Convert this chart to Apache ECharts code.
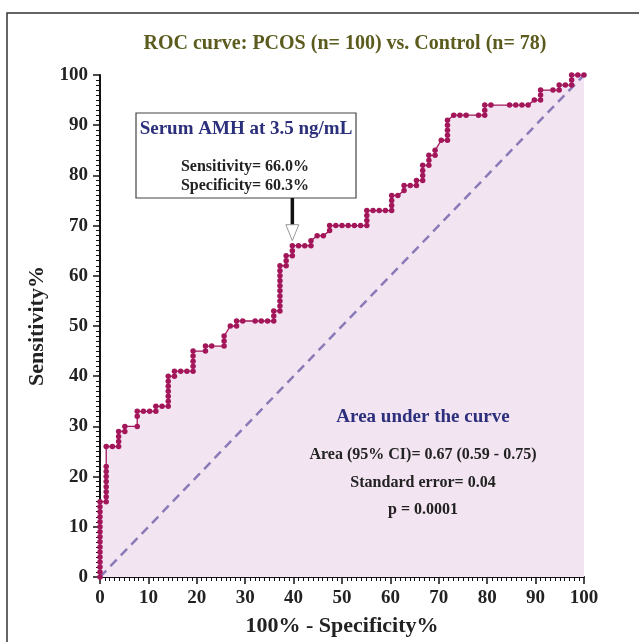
<!DOCTYPE html>
<html>
<head>
<meta charset="utf-8">
<script src="https://cdn.jsdelivr.net/npm/echarts@6/dist/echarts.min.js"></script>
<style>
  html, body { margin: 0; padding: 0; background: #fff; }
  #chart { width: 639px; height: 642px; }
</style>
</head>
<body>
<div id="chart"></div>
<script>
// 文本
const chartTitle = 'ROC curve: PCOS (n= 100) vs. Control (n= 78)';
const xName = '100% - Specificity%';
const yName = 'Sensitivity%';
const cutoffText = ['Serum AMH at 3.5 ng/mL', 'Sensitivity= 66.0%', 'Specificity= 60.3%'];
const aucText = ['Area under the curve', 'Area (95% CI)= 0.67 (0.59 - 0.75)', 'Standard error= 0.04', 'p = 0.0001'];

// ROC 曲线点 [100% - 特异度, 灵敏度]
const rocCurve = [
  [0,0],[0,1],[0,2],[0,3],[0,4],[0,5],[0,6],[0,7],[0,8],[0,9],[0,10],[0,11],[0,12],[0,13],[0,14],[0,15],
  [1.28,15],[1.28,16],[1.28,17],[1.28,18],[1.28,19],[1.28,20],[1.28,21],[1.28,22],[1.28,26],
  [2.56,26],[3.85,26],[3.85,27],[3.85,28],[3.85,29],
  [5.13,29],[5.13,30],
  [7.69,30],[7.69,32],[7.69,33],
  [8.97,33],[10.26,33],[11.54,33],[11.54,34],[12.82,34],[14.10,34],[14.10,35],[14.10,36],[14.10,37],[14.10,38],[14.10,39],[14.10,40],
  [15.38,40],[15.38,41],[16.67,41],[17.95,41],[19.23,41],[19.23,42],[19.23,43],[19.23,44],[19.23,45],
  [21.79,45],[21.79,46],[23.08,46],[25.64,46],[25.64,47],[25.64,48],[26.92,50],[28.21,50],[28.21,51],[29.49,51],
  [32.05,51],[33.33,51],[34.62,51],[35.90,51],[35.90,52],[35.90,53],
  [37.18,53],[37.18,54],[37.18,55],[37.18,56],[37.18,57],[37.18,58],[37.18,59],[37.18,60],[37.18,61],[37.18,62],
  [38.46,62],[38.46,63],[38.46,64],[39.74,64],[39.74,65],[39.74,66],
  [41.03,66],[42.31,66],[43.59,66],[43.59,67],[44.87,68],[46.15,68],[47.44,69],[47.44,70],
  [48.72,70],[50.00,70],[51.28,70],[52.56,70],[53.85,70],[55.13,70],[55.13,71],[55.13,72],[55.13,73],
  [56.41,73],[57.69,73],[58.97,73],[60.26,73],[60.26,74],[60.26,75],[60.26,76],[61.54,76],[62.82,77],[62.82,78],
  [64.10,78],[65.38,78],[65.38,79],[66.67,79],[66.67,80],[66.67,81],[66.67,82],
  [67.95,82],[67.95,83],[67.95,84],[69.23,84],[69.23,85],[70.51,87],[71.79,87],[71.79,88],[71.79,89],[71.79,90],[71.79,91],
  [73.08,92],[74.36,92],[75.64,92],[78.21,92],[79.49,92],[79.49,93],[79.49,94],
  [80.77,94],[84.62,94],[85.90,94],[87.18,94],[88.46,94],[89.74,95],[91.03,95],[91.03,96],[91.03,97],
  [93.59,97],[94.87,97],[94.87,98],[96.15,98],[97.44,98],[97.44,99],[97.44,100],[98.72,100],[100,100]
];

// 参考线 (AUC = 0.5)
const chanceLine = [[0, 0], [100, 100]];

// 截断点
const cutoffPoint = [39.74, 66];

const serif = '"Liberation Serif", "DejaVu Serif", serif';
const curveColor = '#a3175a';
const navy = '#2c2f7c';

const chart = echarts.init(document.getElementById('chart'));

chart.setOption({
  animation: false,
  textStyle: { fontFamily: serif },
  title: {
    text: chartTitle,
    left: 340,
    top: 29,
    textAlign: 'center',
    textStyle: { fontFamily: serif, fontSize: 20, fontWeight: 'bold', color: '#5b5b1e' }
  },
  grid: { left: 100, right: 55, top: 75, bottom: 65, outerBoundsMode: 'none', containLabel: false },
  xAxis: {
    type: 'value',
    min: 0, max: 100, interval: 10,
    name: xName,
    nameLocation: 'middle',
    nameGap: 38,
    nameTextStyle: { fontFamily: serif, fontSize: 22, fontWeight: 'bold', color: '#222' },
    axisLine: { onZero: false, lineStyle: { color: '#111', width: 2 } },
    axisTick: { length: 7, lineStyle: { color: '#111', width: 1.5 } },
    minorTick: { show: true, splitNumber: 10, length: 4, lineStyle: { color: '#111', width: 1 } },
    splitLine: { show: false },
    axisLabel: { fontFamily: serif, fontSize: 19, fontWeight: 'bold', color: '#222', margin: 12 }
  },
  yAxis: {
    type: 'value',
    min: 0, max: 100, interval: 10,
    name: yName,
    nameLocation: 'middle',
    nameGap: 40,
    nameTextStyle: { fontFamily: serif, fontSize: 22, fontWeight: 'bold', color: '#222' },
    axisLine: { show: true, onZero: false, lineStyle: { color: '#111', width: 2 } },
    axisTick: { show: true, length: 7, lineStyle: { color: '#111', width: 1.5 } },
    minorTick: { show: true, splitNumber: 10, length: 4, lineStyle: { color: '#111', width: 1 } },
    splitLine: { show: false },
    axisLabel: { fontFamily: serif, fontSize: 19, fontWeight: 'bold', color: '#222', margin: 12 }
  },
  series: [
    {
      // 曲线下面积填充
      type: 'line',
      data: rocCurve,
      symbol: 'none',
      lineStyle: { opacity: 0 },
      areaStyle: { color: '#f3e4f2', opacity: 1 },
      z: 1,
      silent: true
    },
    {
      type: 'line',
      data: chanceLine,
      symbol: 'none',
      lineStyle: { color: '#8a7bb8', width: 2.5, type: [9, 6] },
      z: 2,
      silent: true
    },
    {
      type: 'line',
      data: rocCurve,
      symbol: 'circle',
      symbolSize: 5.5,
      itemStyle: { color: curveColor },
      lineStyle: { color: curveColor, width: 1.3 },
      z: 3
    }
  ]
});

// 注释：截断点箭头和文字框
const [px, py] = chart.convertToPixel({ gridIndex: 0 }, cutoffPoint);

function label(text, x, y, size, color) {
  return {
    type: 'text',
    x: x, y: y,
    z: 20,
    style: {
      text: text,
      align: 'center',
      verticalAlign: 'middle',
      font: 'bold ' + size + 'px ' + serif,
      fill: color
    }
  };
}

chart.setOption({
  graphic: [
    {
      type: 'rect',
      shape: { x: 7, y: 13, width: 700, height: 700 },
      style: { fill: 'none', stroke: '#333', lineWidth: 1.5 },
      z: 0
    },
    {
      type: 'rect',
      shape: { x: 136, y: 113, width: 220, height: 85 },
      style: { fill: '#fff', stroke: '#444', lineWidth: 1.2 },
      z: 15
    },
    label(cutoffText[0], 246, 129, 19, navy),
    label(cutoffText[1], 245, 167, 16, '#222'),
    label(cutoffText[2], 245, 186, 16, '#222'),
    {
      type: 'line',
      shape: { x1: px, y1: 198, x2: px, y2: py - 20 },
      style: { stroke: '#111', lineWidth: 3.5 },
      z: 15
    },
    {
      type: 'polygon',
      shape: { points: [[px - 6.5, py - 21], [px + 6.5, py - 21], [px, py - 5]] },
      style: { fill: '#fff', stroke: '#999', lineWidth: 1 },
      z: 15
    },
    label(aucText[0], 423, 417, 19, navy),
    label(aucText[1], 423, 455, 16, '#222'),
    label(aucText[2], 423, 483, 16, '#222'),
    label(aucText[3], 423, 510, 16, '#222')
  ]
});
</script>
</body>
</html>
